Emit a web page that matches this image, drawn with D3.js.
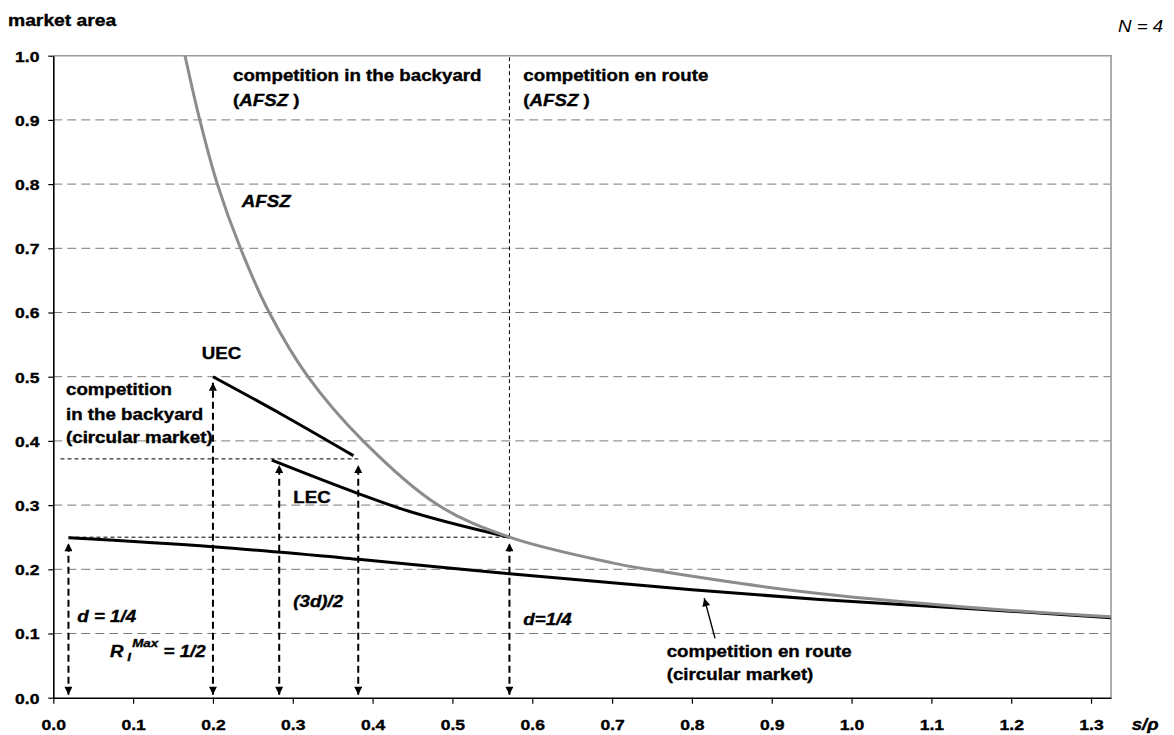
<!DOCTYPE html>
<html>
<head>
<meta charset="utf-8">
<script src="https://cdn.jsdelivr.net/npm/d3@7"></script>
<style>
  html, body { margin: 0; padding: 0; background: #fff; }
  svg { display: block; }
  text { font-family: "Liberation Sans", Arial, sans-serif; fill: #000; }
  text.heavy { stroke: #000; stroke-width: 0.35px; }
</style>
</head>
<body>
<svg id="chart" width="1174" height="735"></svg>
<script>
// Ratio s/ρ on the horizontal axis
const xTicks = [0.0, 0.1, 0.2, 0.3, 0.4, 0.5, 0.6, 0.7, 0.8, 0.9, 1.0, 1.1, 1.2, 1.3];
const yTicks = [0.0, 0.1, 0.2, 0.3, 0.4, 0.5, 0.6, 0.7, 0.8, 0.9, 1.0];

// AFSZ boundary (grey curve)
const afszX = [0.165, 0.1835, 0.2055, 0.2345, 0.2705, 0.319, 0.388, 0.482, 0.5714, 0.7, 0.745, 0.94,  1.145, 1.325];
const afszY = [1.0,   0.9,    0.8,    0.7,    0.6,    0.5,   0.4,   0.3,   0.25,   0.21, 0.2,  0.165, 0.141, 0.126];

// competition en route, circular market
const routeX = [0.019, 0.2,   0.382,  0.5714, 0.8,   0.96,  1.145, 1.325];
const routeY = [0.249, 0.235, 0.2156, 0.193,  0.168, 0.153, 0.139, 0.1246];

// upper equilibrium curve (UEC)
const uecX = [0.2, 0.288, 0.376];
const uecY = [0.5, 0.44,  0.377];

// lower equilibrium curve (LEC)
const lecX = [0.2737, 0.382, 0.434, 0.5714];
const lecY = [0.370,  0.318, 0.295, 0.25];

// double-headed distance markers
const markX   = [0.019, 0.2, 0.283, 0.382, 0.5714];
const markTop = [0.25,  0.5, 0.372, 0.372, 0.25];

// thin dotted reference lines
const refH = [ {y: 0.372, x0: 0.009, x1: 0.382}, {y: 0.25, x0: 0.019, x1: 0.5714} ];
const refV = [ {x: 0.5714, y0: 0.25, y1: 1.0} ];

const svg = d3.select("#chart");
const SX = 1.17; // horizontal stretch of lettering

const x = d3.scaleLinear().domain([0, 1.325]).range([53.3, 1111]);
const y = d3.scaleLinear().domain([0, 1]).range([697.7, 55.7]);

// markers
const defs = svg.append("defs");
defs.append("marker")
  .attr("id", "head")
  .attr("viewBox", "0 0 10 10")
  .attr("refX", 10).attr("refY", 5)
  .attr("markerWidth", 10).attr("markerHeight", 8)
  .attr("markerUnits", "userSpaceOnUse")
  .attr("orient", "auto-start-reverse")
  .append("path").attr("d", "M0,0 L10,5 L0,10 Z").attr("fill", "#000");

// horizontal gridlines
svg.append("g").selectAll("line")
  .data(yTicks.filter(d => d > 0 && d < 1))
  .join("line")
  .attr("x1", x(0)).attr("x2", x(1.325))
  .attr("y1", d => y(d)).attr("y2", d => y(d))
  .attr("stroke", "#7a7a7a").attr("stroke-width", 1)
  .attr("stroke-dasharray", "9,5");

// plot frame (top and right)
svg.append("path")
  .attr("d", `M${x(0)},${y(1)} H${x(1.325)} V${y(0)}`)
  .attr("fill", "none").attr("stroke", "#999").attr("stroke-width", 1.6);

// axes
const xAxis = svg.append("g").attr("transform", `translate(0,${y(0)})`)
  .call(d3.axisBottom(x).tickValues(xTicks).tickFormat(d3.format(".1f")).tickSize(6).tickSizeOuter(0));
const yAxis = svg.append("g").attr("transform", `translate(${x(0)},0)`)
  .call(d3.axisLeft(y).tickValues(yTicks).tickFormat(d3.format(".1f")).tickSize(5).tickSizeOuter(0));
[xAxis, yAxis].forEach(g => {
  g.select(".domain").attr("stroke", "#000").attr("stroke-width", 1.6);
  g.selectAll(".tick line").attr("stroke", "#000").attr("stroke-width", 1.2);
  g.selectAll(".tick text")
    .attr("class", "heavy")
    .attr("font-family", "Liberation Sans, Arial, sans-serif")
    .attr("font-size", 15).attr("font-weight", "bold").attr("fill", "#000");
});
xAxis.selectAll(".tick text").attr("y", 0).attr("dy", 0)
  .attr("transform", `translate(0,32.5) scale(${SX},1)`);
yAxis.selectAll(".tick text").attr("x", 0).attr("dy", 0)
  .attr("transform", `translate(-13.8,5.4) scale(${SX},1)`);

// thin dotted reference lines
svg.append("g").selectAll("line").data(refH).join("line")
  .attr("x1", d => x(d.x0)).attr("x2", d => x(d.x1))
  .attr("y1", d => y(d.y)).attr("y2", d => y(d.y))
  .attr("stroke", "#000").attr("stroke-width", 1).attr("stroke-dasharray", "4,3");
svg.append("g").selectAll("line").data(refV).join("line")
  .attr("x1", d => x(d.x)).attr("x2", d => x(d.x))
  .attr("y1", d => y(d.y0)).attr("y2", d => y(d.y1))
  .attr("stroke", "#000").attr("stroke-width", 1).attr("stroke-dasharray", "4,3");

// double-headed dashed distance arrows
svg.append("g").selectAll("line").data(markX).join("line")
  .attr("x1", d => x(d)).attr("x2", d => x(d))
  .attr("y1", y(0) - 3)
  .attr("y2", (d, i) => y(markTop[i]) + 6)
  .attr("stroke", "#000").attr("stroke-width", 2).attr("stroke-dasharray", "7,4")
  .attr("marker-start", "url(#head)").attr("marker-end", "url(#head)");

// curves
const line = d3.line().x(d => x(d[0])).y(d => y(d[1])).curve(d3.curveMonotoneX);
const zipXY = (xs, ys) => xs.map((v, i) => [v, ys[i]]);

svg.append("path").datum(zipXY(routeX, routeY)).attr("d", line)
  .attr("fill", "none").attr("stroke", "#000").attr("stroke-width", 3);
svg.append("path").datum(zipXY(uecX, uecY)).attr("d", line)
  .attr("fill", "none").attr("stroke", "#000").attr("stroke-width", 3);
svg.append("path").datum(zipXY(lecX, lecY)).attr("d", line)
  .attr("fill", "none").attr("stroke", "#000").attr("stroke-width", 3);
svg.append("path").datum(zipXY(afszX, afszY))
  .attr("d", d3.line().x(d => x(d[0])).y(d => y(d[1])).curve(d3.curveCatmullRom.alpha(0.5)))
  .attr("fill", "none").attr("stroke", "#8c8c8c").attr("stroke-width", 3);

// pointer to the en-route curve
svg.append("line")
  .attr("x1", x(0.829)).attr("y1", y(0.0925))
  .attr("x2", x(0.8154)).attr("y2", y(0.155))
  .attr("stroke", "#000").attr("stroke-width", 1.4)
  .attr("marker-end", "url(#head)");

// text helper: parts are [string, italic?, options]
function label(px, py, parts, size = 16, weight = "bold") {
  const t = svg.append("text")
    .attr("transform", `translate(${px},${py}) scale(${SX},1)`)
    .attr("font-size", size).attr("font-weight", weight);
  if (weight === "bold") t.attr("class", "heavy");
  parts.forEach(p => {
    const s = t.append("tspan").text(p[0]).attr("xml:space", "preserve");
    if (p[1]) s.attr("font-style", "italic");
    const o = p[2] || {};
    if (o.dy !== undefined) s.attr("dy", o.dy);
    if (o.size) s.attr("font-size", o.size);
    if (o.dx !== undefined) s.attr("dx", o.dx);
  });
  return t;
}

label(8, 26, [["market area"]], 16.5);
label(1118, 31.7, [["N = 4", true]], 16, "normal");
label(233, 80.7, [["competition in the backyard"]]);
label(233, 106, [["("], ["AFSZ", true], [" )"]]);
label(523.3, 80.7, [["competition en route"]]);
label(523.3, 106, [["("], ["AFSZ", true], [" )"]]);
label(241.7, 206.7, [["AFSZ", true]]);
label(201.7, 359.3, [["UEC"]]);
label(66, 395, [["competition"]]);
label(66, 420, [["in the backyard"]]);
label(66, 443.3, [["(circular market)"]]);
label(293.3, 503.3, [["LEC"]]);
label(77.3, 621.7, [["d = 1/4", true]]);
label(293.3, 606.7, [["(3d)/2", true]]);
label(523.3, 625, [["d=1/4", true]]);
label(110, 656.7, [["R", true], [" I", true, {dy: 4, size: 11.5}], ["Max", true, {dy: -14, size: 11.5, dx: 1}], [" = 1/2", true, {dy: 10}]]);
label(666.7, 656.7, [["competition en route"]]);
label(666.7, 680, [["(circular market)"]]);
label(1131.7, 730, [["s/ρ", true]]);
</script>
</body>
</html>
